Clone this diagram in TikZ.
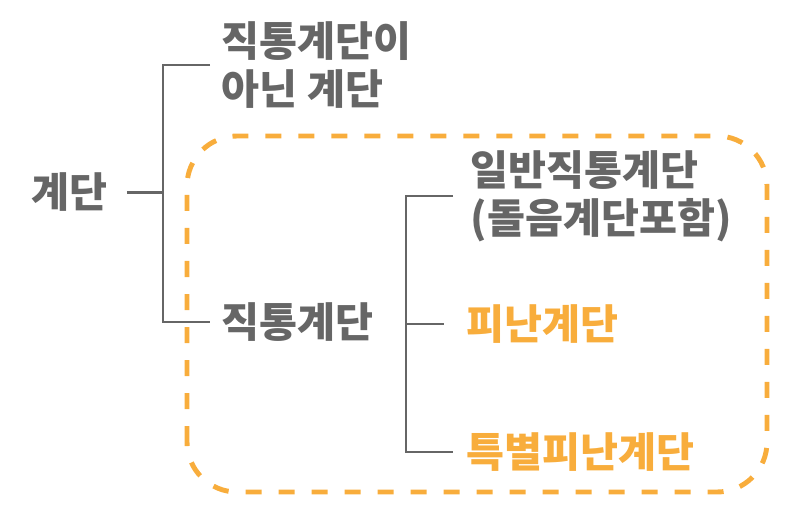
\documentclass[tikz,border=0pt]{standalone}
\usepackage{fontspec}
\setmainfont{Noto Sans CJK KR}
\usetikzlibrary{positioning, calc}
\definecolor{cgrey}{HTML}{666666}
\definecolor{corange}{HTML}{F8AD3C}
\tikzset{
  every picture/.style={line width=1.1pt},
  label/.style={font=\bfseries\fontsize{23.5}{27.5}\selectfont, text=#1, inner sep=0pt, anchor=west, align=left},
  label/.default=cgrey,
  branch/.style={draw=cgrey, line width=1.2pt},
  group/.style={draw=corange, line width=2.8pt, dash pattern=on 0.32cm off 0.34cm, rounded corners=1cm},
}

\begin{document}
\begin{tikzpicture}
  \useasboundingbox (0,0) rectangle (16,10.3);
  % dashed group round the direct stairs
  \draw[group] (3.74,0.46) rectangle (15.34,7.58);
  % labels
  \node[label] (root) at (0.62,6.45) {계단};
  \node[label] (nonstair) at (4.42,9.0) {직통계단이\\아닌 계단};
  \node[label] (direct) at (4.42,3.86) {직통계단};
  \node[label] (general) at (9.40,6.38) {일반직통계단\\(돌음계단포함)};
  \node[label=corange] (evac) at (9.32,3.82) {피난계단};
  \node[label=corange] (special) at (9.32,1.26) {특별피난계단};
  % brackets
  \coordinate (b1) at (3.26,0);
  \coordinate (b2) at (8.12,0);
  \draw[branch] ([xshift=3.6mm]root.east) -- (b1 |- root.east);
  \draw[branch] ([xshift=-2.2mm]nonstair.west) -| (b1 |- direct.west) -- ([xshift=-2.2mm]direct.west);
  \draw[branch] ([xshift=-3.4mm]general.west) -| (b2 |- special.west) -- ([xshift=-2.6mm]special.west);
  \draw[branch] (b2 |- evac.west) -- ([xshift=-4.4mm]evac.west);
\end{tikzpicture}
\end{document}
